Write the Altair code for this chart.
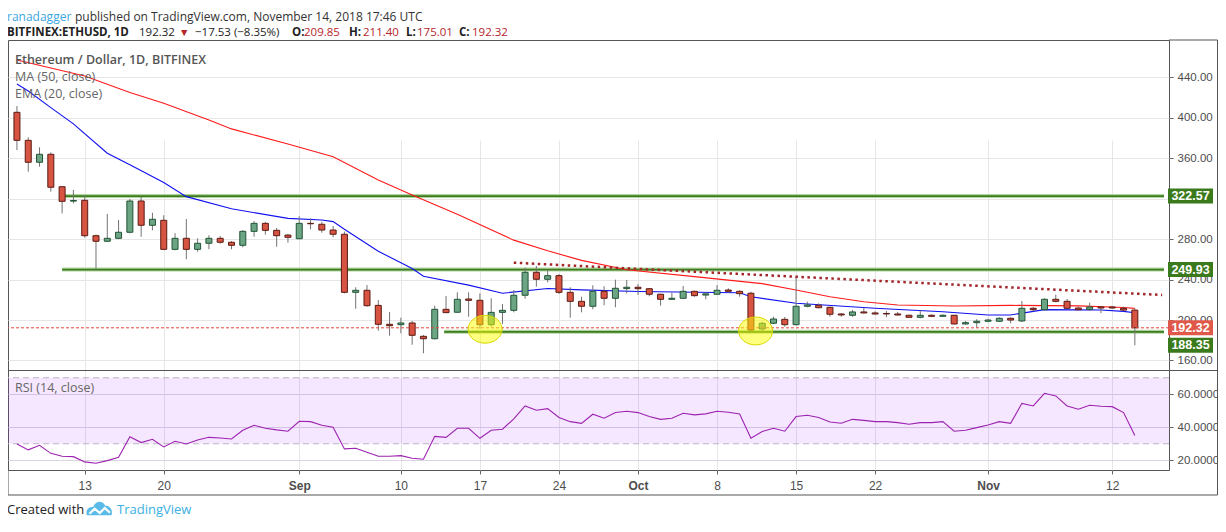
import altair as alt
import pandas as pd

# ---------------- data ----------------
dates = pd.date_range("2018-08-07", "2018-11-14", freq="D").strftime("%Y-%m-%d").tolist()

open_ = [405.4, 377.7, 356.0, 363.9, 331.8, 317.6, 318.4, 283.4, 277.9, 280.8,
         286.8, 317.7, 293.7, 298.6, 269.9, 280.8, 269.9, 275.9, 280.8, 276.9,
         273.9, 287.7, 295.6, 288.7, 284.0,
         280.4, 295.6, 294.7, 289.0, 284.8, 227.4, 229.4, 214.5, 195.8, 195.4,
         197.1, 183.9, 181.5, 210.6, 207.7, 220.8, 219.5, 195.4, 207.6, 209.6,
         224.5, 247.2, 240.3, 243.9, 227.4, 218.5, 213.6, 228.4, 221.5, 231.1,
         232.4, 231.0, 225.5, 220.5, 221.5, 228.4, 224.7, 225.5, 229.7, 228.4,
         226.5, 191.2, 196.8, 200.7, 195.4, 213.6, 214.6, 212.6, 206.0, 204.7,
         208.0, 207.0, 206.5, 206.0, 204.7, 202.7, 204.7, 203.7, 204.7, 196.1, 197.4,
         198.8, 198.8, 201.7, 199.1, 211.6, 210.2, 220.5, 218.5, 211.9, 210.5,
         212.9, 212.9, 211.6, 209.85]
high = [411.6, 380.7, 370.8, 365.8, 332.5, 328.6, 323.3, 284.5, 304.9, 298.9,
        319.7, 321.9, 306.1, 303.6, 285.8, 299.9, 280.8, 283.8, 283.1, 278.0,
        289.0, 297.9, 297.2, 291.0, 285.1,
        302.6, 300.6, 297.2, 293.0, 287.5, 232.4, 234.6, 219.8, 208.0, 202.3,
        199.1, 185.2, 214.2, 223.8, 227.4, 227.4, 226.4, 221.5, 215.9, 229.7,
        251.8, 253.4, 250.2, 245.5, 232.4, 223.1, 234.4, 233.4, 239.9, 239.6,
        235.6, 231.5, 226.0, 227.0, 233.7, 229.0, 227.7, 234.6, 231.4, 229.4,
        228.0, 198.4, 203.3, 203.0, 242.9, 218.1, 216.5, 213.2, 206.7, 210.0,
        211.9, 208.6, 209.0, 208.0, 205.3, 209.6, 205.5, 205.5, 205.0, 199.1, 200.8,
        201.3, 202.7, 202.7, 218.8, 212.9, 221.5, 225.1, 220.8, 213.2, 217.2,
        213.9, 213.9, 213.2, 211.40]
low = [368.1, 346.7, 351.6, 326.9, 305.5, 315.4, 281.4, 249.9, 277.5, 280.0,
       285.8, 282.4, 288.7, 269.5, 269.0, 260.1, 267.6, 270.0, 275.5, 270.0,
       271.9, 282.4, 284.4, 272.5, 276.5,
       280.0, 289.7, 286.4, 281.8, 226.4, 211.2, 213.2, 189.5, 184.5, 186.9,
       175.6, 167.1, 181.0, 207.0, 207.0, 203.3, 191.4, 193.4, 196.1, 207.6,
       221.1, 233.0, 237.3, 225.8, 202.3, 207.6, 210.6, 214.6, 212.6, 226.4,
       224.8, 223.5, 214.2, 219.8, 221.0, 223.1, 220.5, 225.1, 227.0, 223.1,
       188.5, 189.2, 196.1, 193.4, 194.8, 212.6, 211.6, 203.3, 203.3, 203.3,
       206.7, 205.3, 202.7, 204.3, 202.3, 201.7, 203.0, 203.2, 195.8, 195.4, 192.4,
       197.8, 198.1, 196.8, 198.1, 208.6, 209.6, 217.5, 210.9, 210.0, 209.3,
       206.7, 211.2, 208.7, 175.01]
close = [377.7, 356.0, 363.9, 331.3, 317.4, 318.2, 283.4, 277.9, 280.8, 286.8,
         317.7, 293.7, 299.6, 269.9, 280.8, 269.9, 275.9, 280.8, 276.9, 273.9,
         287.7, 295.6, 288.7, 283.4, 281.8,
         295.6, 295.2, 289.0, 284.8, 227.4, 229.4, 214.2, 195.8, 194.4, 197.1,
         184.9, 181.5, 210.6, 207.3, 220.5, 219.5, 195.4, 207.6, 209.6, 224.5,
         247.2, 240.3, 243.9, 227.4, 218.5, 213.6, 228.4, 221.5, 231.4, 232.4,
         231.0, 225.5, 220.5, 221.5, 228.4, 224.1, 225.9, 229.4, 228.4, 226.1,
         190.2, 196.8, 201.0, 195.4, 213.6, 214.9, 212.2, 205.7, 205.0, 208.0,
         207.0, 206.0, 206.0, 205.0, 202.7, 204.7, 203.7, 204.7, 196.1, 197.4, 198.8,
         200.0, 201.7, 200.0, 211.6, 210.2, 220.5, 218.5, 211.6, 210.2, 212.9,
         211.9, 211.9, 209.85, 192.32]

rsi = [29.9, 26.3, 29.1, 24.2, 22.4, 22.2, 19.0, 18.2, 19.8, 21.8,
       34.3, 30.7, 32.7, 28.1, 31.5, 29.9, 32.3, 33.9, 33.5, 32.9,
       38.2, 41.2, 39.4, 38.4, 37.6,
       43.6, 43.4, 41.2, 40.0, 26.9, 27.3, 24.8, 22.4, 22.4, 22.8,
       21.2, 20.6, 34.5, 33.9, 39.4, 39.4, 33.3, 38.2, 38.8, 45.1,
       52.9, 50.3, 51.3, 45.9, 43.4, 42.4, 47.9, 45.5, 49.0, 49.7,
       48.9, 46.5, 44.8, 45.5, 48.5, 47.5, 48.1, 49.7, 49.1, 48.1,
       33.3, 37.4, 39.4, 37.6, 46.5, 47.3, 45.9, 43.2, 42.4, 44.8,
       44.2, 43.4, 43.4, 42.8, 41.8, 42.8, 42.8, 43.4, 37.6, 38.2, 39.8,
       41.4, 43.4, 42.4, 54.5, 52.9, 60.6, 59.0, 52.9, 50.9, 53.3,
       52.7, 52.5, 48.9, 35.0]

ma50_dates = ["2018-08-07", "2018-08-13", "2018-08-17", "2018-08-20", "2018-08-24",
              "2018-08-26", "2018-08-31", "2018-09-04", "2018-09-08", "2018-09-11",
              "2018-09-15", "2018-09-20", "2018-09-23", "2018-09-26", "2018-09-30",
              "2018-10-06", "2018-10-12", "2018-10-15", "2018-10-18", "2018-10-21",
              "2018-10-24", "2018-10-29", "2018-11-03", "2018-11-09", "2018-11-13",
              "2018-11-14"]
ma50_vals = [457.1, 441.3, 425.0, 414.3, 397.8, 389.0, 374.0, 361.5, 338.5, 323.6,
             304.5, 279.0, 268.5, 259.0, 249.7, 242.9, 236.0, 229.7, 223.1, 218.1,
             214.9, 213.9, 214.5, 214.0, 212.4, 211.5]

ema20_dates = ["2018-08-07", "2018-08-08", "2018-08-10", "2018-08-12", "2018-08-15",
               "2018-08-17", "2018-08-20", "2018-08-22", "2018-08-26", "2018-08-31",
               "2018-09-03", "2018-09-04", "2018-09-05", "2018-09-08", "2018-09-11",
               "2018-09-12", "2018-09-16", "2018-09-19", "2018-09-23", "2018-09-26",
               "2018-10-01", "2018-10-08", "2018-10-10", "2018-10-11", "2018-10-15",
               "2018-10-22", "2018-10-28", "2018-11-01", "2018-11-03", "2018-11-06",
               "2018-11-11", "2018-11-13", "2018-11-14"]
ema20_vals = [433.4, 426.5, 410.0, 394.0, 365.0, 353.5, 336.0, 322.0, 310.0, 300.5,
              298.9, 297.3, 289.7, 268.0, 251.0, 243.3, 234.5, 226.5, 231.2, 229.8,
              228.2, 227.3, 227.0, 223.0, 216.6, 211.6, 208.2, 205.0, 205.0, 210.3,
              210.0, 208.6, 207.2]

trend_dates = ["2018-09-20T00:00:00Z", "2018-11-16T10:00:00Z"]
trend_vals = [256.7, 224.8]

level_vals = [322.57, 249.93, 188.35]
level_start = ["2018-08-11T00:00:00Z", "2018-08-11T00:00:00Z", "2018-09-13T20:00:00Z"]
last_price = 192.32

marker_dates = ["2018-09-17T11:00:00Z", "2018-10-11T10:00:00Z"]
marker_prices = [190.9, 189.2]

x_end = "2018-11-16T14:00:00Z"
price_ticks = [160, 200, 240, 280, 320, 360, 400, 440]
rsi_ticks = [20, 40, 60]
tick_md = [(8, 13), (8, 20), (9, 1), (9, 10), (9, 17), (9, 24), (10, 1), (10, 8),
           (10, 15), (10, 22), (11, 1), (11, 12)]

# ---------------- scales / axes ----------------
W, H = 1161, 430
P_BOT, R_TOP = 330, 331
RIGHT = 49          # right padding: svg is 1210 wide, fits the page body
LABEL_FONT = "Liberation Sans"
TXT_FONT = "Open Sans"

xs = alt.Scale(type="utc", nice=False,
               domain=[alt.DateTime(year=2018, month=8, date=6, hours=15, minutes=36, utc=True),
                       alt.DateTime(year=2018, month=11, date=16, hours=14, utc=True)])
xaxis = alt.Axis(
    values=[alt.DateTime(year=2018, month=m, date=d, utc=True) for m, d in tick_md],
    labelExpr="utcdate(datum.value) == 1 ? utcFormat(datum.value, '%b') : utcFormat(datum.value, '%-d')",
    labelFontWeight={"condition": {"test": "utcdate(datum.value) == 1", "value": "bold"}, "value": "normal"},
    grid=True, gridColor="#e6e6e6", domain=False, tickColor="#666", tickSize=4,
    labelColor="#4d4d4d", labelFont=LABEL_FONT, labelFontSize=12, labelPadding=6,
    labelFlush=False, title=None, zindex=0)
ys = alt.Scale(domain=[150.6, 476.9], range=[P_BOT, 0], zero=False, nice=False)
yaxis = alt.Axis(orient="right", values=price_ticks,
                 labelExpr="datum.value == 320 ? '' : format(datum.value, '.2f')",
                 grid=True, gridColor="#e6e6e6",
                 domain=False, tickColor="#666", tickSize=4, labelColor="#4d4d4d",
                 labelFont=LABEL_FONT, labelFontSize=11.5, labelPadding=4, title=None, zindex=0)
rs = alt.Scale(domain=[14.1, 74.1], range=[H, R_TOP], zero=False, nice=False)
raxis = alt.Axis(orient="right", values=rsi_ticks, format=".4f", grid=True, gridColor="#dcd3e3",
                 domain=False, tickColor="#666", tickSize=4, labelColor="#4d4d4d",
                 labelFont=LABEL_FONT, labelFontSize=11.5, labelPadding=4, title=None, zindex=0)

def X(field="date"):
    return alt.X(f"{field}:T", scale=xs, axis=xaxis)

def YP(field):
    return alt.Y(f"{field}:Q", scale=ys, axis=yaxis)

def YR(field):
    return alt.Y(f"{field}:Q", scale=rs, axis=raxis)

# ---------------- price panel ----------------
cdf = pd.DataFrame({"date": dates, "open": open_, "high": high, "low": low, "close": close})
cdf["dir"] = ["up" if c >= o else "down" for o, c in zip(open_, close)]

lv = pd.DataFrame({"start": level_start, "end": [x_end] * len(level_vals), "price": level_vals})
halo = alt.Chart(lv).mark_rule(color="#afd49d", strokeWidth=4).encode(
    x=X("start"), x2="end:T", y=YP("price"))
core = alt.Chart(lv).mark_rule(color="#3d7a20", strokeWidth=1.8).encode(
    x=X("start"), x2="end:T", y=YP("price"))

ma50 = alt.Chart(pd.DataFrame({"date": ma50_dates, "v": ma50_vals})).mark_line(
    color="#ff1a1a", strokeWidth=1.1).encode(x=X(), y=YP("v"))
ema20 = alt.Chart(pd.DataFrame({"date": ema20_dates, "v": ema20_vals})).mark_line(
    color="#1010f0", strokeWidth=1.1).encode(x=X(), y=YP("v"))

wick = alt.Chart(cdf).mark_rule(color="#737375", strokeWidth=1).encode(
    x=X(), y=YP("low"), y2="high:Q")
body = alt.Chart(cdf).mark_bar(size=6, strokeWidth=1).encode(
    x=X(), y=YP("open"), y2="close:Q",
    fill=alt.Fill("dir:N", scale=alt.Scale(domain=["up", "down"], range=["#6ba583", "#d75442"]), legend=None),
    stroke=alt.Stroke("dir:N", scale=alt.Scale(domain=["up", "down"], range=["#225437", "#5b1a13"]), legend=None))

trend = alt.Chart(pd.DataFrame({"date": trend_dates, "v": trend_vals})).mark_line(
    color="#a3262b", strokeWidth=2.5, strokeDash=[2.5, 3.5], strokeCap="butt").encode(x=X(), y=YP("v"))

lastline = alt.Chart(pd.DataFrame({"p": [last_price]})).mark_rule(
    color="#e8453c", strokeWidth=1, strokeDash=[3, 2]).encode(y=YP("p"))

ellipse = "M-1,0A1,0.82,0,1,1,1,0A1,0.82,0,1,1,-1,0Z"
marks = alt.Chart(pd.DataFrame({"date": marker_dates, "p": marker_prices})).mark_point(
    shape=ellipse, size=1156, filled=True, fill="#ffff00", fillOpacity=0.5,
    stroke="#d8d800", strokeWidth=1, opacity=1).encode(x=X(), y=YP("p"))

# price labels on the axis
BX0, BX1 = W - 1, W + 44
box_df = pd.DataFrame({"p": [level_vals[0], level_vals[1]]})
box_g = alt.Chart(box_df).mark_rect(color="#3b7a1c", yOffset=-7.5, y2Offset=7.5).encode(
    x=alt.value(BX0), x2=alt.value(BX1), y=YP("p"), y2="p:Q")
txt_g = alt.Chart(box_df).mark_text(color="white", font=LABEL_FONT, fontSize=12.5, fontWeight="bold",
                                    baseline="middle", align="center").encode(
    x=alt.value((BX0 + BX1) / 2), y=YP("p"), text=alt.Text("p:Q", format=".2f"))
box_s_df = pd.DataFrame({"p": [level_vals[2]]})
box_s = alt.Chart(box_s_df).mark_rect(color="#3b7a1c", yOffset=6, y2Offset=21).encode(
    x=alt.value(BX0), x2=alt.value(BX1), y=YP("p"), y2="p:Q")
txt_s = alt.Chart(box_s_df).mark_text(color="white", font=LABEL_FONT, fontSize=12.5, fontWeight="bold",
                                      baseline="middle", align="center", dy=13.5).encode(
    x=alt.value((BX0 + BX1) / 2), y=YP("p"), text=alt.Text("p:Q", format=".2f"))
box_r_df = pd.DataFrame({"p": [last_price]})
box_r = alt.Chart(box_r_df).mark_rect(color="#df5849", yOffset=-7.5, y2Offset=7.5).encode(
    x=alt.value(BX0), x2=alt.value(BX1), y=YP("p"), y2="p:Q")
txt_r = alt.Chart(box_r_df).mark_text(color="white", font=LABEL_FONT, fontSize=12.5, fontWeight="bold",
                                      baseline="middle", align="center").encode(
    x=alt.value((BX0 + BX1) / 2), y=YP("p"), text=alt.Text("p:Q", format=".2f"))

price = alt.layer(halo, core, ma50, ema20, wick, body, trend, lastline, marks,
                  box_g, txt_g, box_s, txt_s, box_r, txt_r)

# ---------------- RSI panel ----------------
rdf = pd.DataFrame({"date": dates, "rsi": rsi})
band = alt.Chart(pd.DataFrame({"a": [30], "b": [70]})).mark_rect(
    color="#9915ff", opacity=0.1).encode(y=YR("a"), y2="b:Q")
bands = alt.Chart(pd.DataFrame({"v": [30, 70]})).mark_rule(
    color="#bdb3c6", strokeWidth=1, strokeDash=[6, 4]).encode(y=YR("v"))
rline = alt.Chart(rdf).mark_line(color="#9c22b0", strokeWidth=1.1).encode(x=X(), y=YR("rsi"))
rsi_layer = alt.layer(band, bands, rline)

# ---------------- decorations / texts ----------------
one = pd.DataFrame({"k": [0]})

def txt(s, x, y, color="#222", size=12, weight="normal", font=TXT_FONT, align="left"):
    return alt.Chart(one).mark_text(text=s, color=color, fontSize=size, fontWeight=weight, font=font,
                                    align=align, baseline="middle").encode(x=alt.value(x), y=alt.value(y))

def line(x, x2, y, y2, color="#555"):
    return alt.Chart(one).mark_rule(color=color, strokeWidth=1).encode(
        x=alt.value(x), x2=alt.value(x2), y=alt.value(y), y2=alt.value(y2))

RED = "#b5262b"
L1, L2 = -23.5, -7.5
FOOT = 470
texts = [
    txt("ranadagger", -1, L1, color="#3ba7df", size=12),
    txt("published on TradingView.com, November 14, 2018 17:46 UTC", 67, L1, color="#333", size=12),
    txt("BITFINEX:ETHUSD, 1D", -1, L2, color="#222", size=11.5, weight="bold"),
    txt("192.32", 131, L2, color="#222", size=11.5),
    txt("▼", 171, L2, color=RED, size=10.5),
    txt("\u221217.53 (\u22128.35%)", 187, L2, color="#222", size=11.5),
    txt("O:", 284, L2, color="#222", size=11.5, weight="bold"),
    txt("209.85", 296, L2, color=RED, size=11.5),
    txt("H:", 341, L2, color="#222", size=11.5, weight="bold"),
    txt("211.40", 355, L2, color=RED, size=11.5),
    txt("L:", 398, L2, color="#222", size=11.5, weight="bold"),
    txt("175.01", 409, L2, color=RED, size=11.5),
    txt("C:", 451, L2, color="#222", size=11.5, weight="bold"),
    txt("192.32", 464, L2, color=RED, size=11.5),
    txt("Ethereum / Dollar, 1D, BITFINEX", 7, 20, color="#555", size=12.5, weight=600),
    txt("MA (50, close)", 7, 37, color="#666", size=12.5),
    txt("EMA (20, close)", 7, 54, color="#666", size=12.5),
    txt("RSI (14, close)", 7, 348, color="#666", size=12.5),
    txt("Created with", -1, FOOT, color="#222", size=13),
    txt("TradingView", 109, FOOT, color="#3bb0e3", size=13),
]

cloud = "M-1,0.5C-1.15,0.1,-0.8,-0.25,-0.5,-0.15C-0.35,-0.65,0.25,-0.75,0.45,-0.25C0.8,-0.3,1.08,0.05,0.95,0.5Z"
zig = "M-0.8,0.38L-0.38,-0.02L0.02,0.32L0.42,-0.08L0.82,0.3"
logo = alt.Chart(one).mark_point(shape=cloud, size=640, filled=True, fill="#5bbbe8", opacity=1,
                                 strokeWidth=0).encode(x=alt.value(91.5), y=alt.value(FOOT - 1))
logo2 = alt.Chart(one).mark_point(shape=zig, size=640, filled=False, stroke="white", strokeWidth=2.2,
                                  opacity=1).encode(x=alt.value(91.5), y=alt.value(FOOT - 1))

FR = W + RIGHT - 0.5
frame = [
    line(0, FR, P_BOT + 0.5, P_BOT + 0.5),
    line(FR, FR, 0, H + 25),
    line(W, FR, 0, 0),
    line(0, FR, H + 25, H + 25),
    line(0, 0, H, H + 25),
]

chart = alt.layer(price, rsi_layer, *frame, *texts, logo, logo2).resolve_scale(
    y="independent"
).properties(
    width=W, height=H,
    padding={"left": 0, "top": 32, "right": RIGHT, "bottom": 47},
    autosize=alt.AutoSizeParams(type="none"),
).configure_view(stroke="#555", strokeWidth=1)

chart.save("out.html", embed_options={"renderer": "svg", "actions": False})
